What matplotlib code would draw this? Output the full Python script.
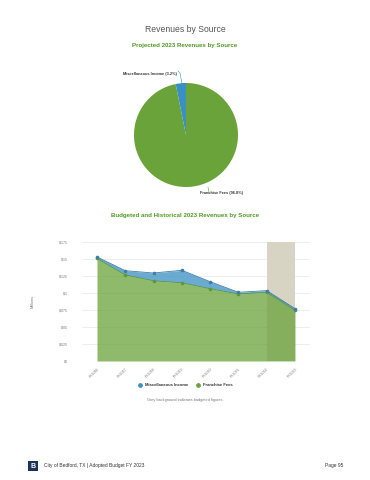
import matplotlib
matplotlib.use("Agg")
import matplotlib.pyplot as plt
from matplotlib.patches import Rectangle
import numpy as np

plt.rcParams['font.family'] = ['Liberation Sans', 'DejaVu Sans']

# ---- data ----
pie_labels = ["Miscellaneous Income", "Franchise Fees"]
pie_values = [3.2, 96.8]

years = ["FY2016", "FY2017", "FY2018", "FY2019", "FY2020", "FY2021", "FY2022", "FY2023"]
misc_income = [0.0020, 0.0063, 0.0114, 0.0184, 0.0103, 0.0025, 0.0025, 0.0025]
franchise_fees = [0.1510, 0.1265, 0.1180, 0.1150, 0.1063, 0.0985, 0.1010, 0.0745]
y_ticks = [0, 0.025, 0.05, 0.075, 0.1, 0.125, 0.15, 0.175]
y_tick_labels = ["$0", "$.025", "$.05", "$.075", "$.1", "$.125", "$.15", "$.175"]

W, H = 370, 480
fig = plt.figure(figsize=(W / 100, H / 100), dpi=100)
fig.patch.set_facecolor("white")

def px(x, y):
    return x / W, 1 - y / H

def box(x0, y0, x1, y1):
    return [x0 / W, 1 - y1 / H, (x1 - x0) / W, (y1 - y0) / H]

GREEN = "#6aa339"
BLUE = "#3a8fc4"
TITLE_GREEN = "#4e9a25"

# titles
fig.text(*px(185, 30), "Revenues by Source", ha="center", va="center", fontsize=6.2, color="#555555")
fig.text(*px(185, 45), "Projected 2023 Revenues by Source", ha="center", va="center",
         fontsize=4.4, color=TITLE_GREEN, fontweight="bold")

# ---- pie ----
axp = fig.add_axes(box(134, 83, 238, 187))
axp.pie(pie_values, colors=[BLUE, GREEN], startangle=90, counterclock=True,
        wedgeprops=dict(linewidth=0), radius=1)
axp.set_xlim(-1, 1)
axp.set_ylim(-1, 1)
axp.set_aspect("equal")
axp.axis("off")

fig.text(*px(150, 74), f"{pie_labels[0]} ({pie_values[0]}%)", ha="center", va="center",
         fontsize=2.8, color="#333333", fontweight="bold")
fig.text(*px(222, 193), f"{pie_labels[1]} ({pie_values[1]}%)", ha="center", va="center",
         fontsize=2.8, color="#333333", fontweight="bold")
# connector lines
fig.add_artist(plt.Line2D([178 / W, 180 / W, 182 / W], [1 - 71 / H, 1 - 73 / H, 1 - 84 / H],
                          color=BLUE, linewidth=0.4))
fig.add_artist(plt.Line2D([209 / W, 208 / W], [1 - 193 / H, 1 - 187 / H],
                          color=GREEN, linewidth=0.4))

fig.text(*px(185, 216), "Budgeted and Historical 2023 Revenues by Source", ha="center", va="center",
         fontsize=4.4, color=TITLE_GREEN, fontweight="bold")

# ---- area chart ----
ax = fig.add_axes(box(82, 242, 310, 361))
x = np.arange(len(years))
ax.set_xlim(-0.53, 7.53)
ax.set_ylim(0, 0.175)
for t in y_ticks:
    ax.axhline(t, color="#e6e6e6", linewidth=0.5, zorder=0)
ax.axvspan(6, 7, color="#d8d4c4", zorder=0.5, linewidth=0)

ff = np.array(franchise_fees)
mi = np.array(misc_income)
total = ff + mi
ax.fill_between(x, 0, ff, color=GREEN, alpha=0.75, linewidth=0, zorder=1)
ax.fill_between(x, ff, total, color=BLUE, alpha=0.75, linewidth=0, zorder=1)
ax.plot(x, ff, color="#5d9a36", linewidth=0.6, marker="o", markersize=1.6, zorder=3)
ax.plot(x, total, color="#3f7fa6", linewidth=0.6, marker="o", markersize=1.6, zorder=3)

ax.set_yticks(y_ticks)
ax.set_yticklabels(y_tick_labels, fontsize=2.6, color="#777777")
ax.set_xticks(x)
ax.set_xticklabels(years, fontsize=2.6, color="#777777", rotation=45, ha="right", rotation_mode="anchor")
ax.tick_params(axis="y", length=0, pad=10)
ax.tick_params(axis="x", length=0, pad=4)
for s in ax.spines.values():
    s.set_visible(False)
ax.set_facecolor("none")

fig.text(*px(33, 301), "Millions", rotation=90, ha="center", va="center", fontsize=2.8, color="#777777")

# legend
fig.add_artist(plt.Line2D([140 / W], [1 - 385 / H], marker="o", markersize=2.4, color=BLUE, linestyle=""))
fig.text(*px(145, 385), pie_labels[0], ha="left", va="center", fontsize=3.0, color="#333333", fontweight="bold")
fig.add_artist(plt.Line2D([198 / W], [1 - 385 / H], marker="o", markersize=2.4, color=GREEN, linestyle=""))
fig.text(*px(203, 385), pie_labels[1], ha="left", va="center", fontsize=3.0, color="#333333", fontweight="bold")

fig.text(*px(185, 400), "Grey background indicates budgeted figures.", ha="center", va="center",
         fontsize=2.8, color="#777777")

# footer
fig.add_artist(Rectangle((28 / W, 1 - 471 / H), 10 / W, 10 / H, transform=fig.transFigure,
                         facecolor="#1c3557", edgecolor="none"))
fig.text(*px(33, 466), "B", ha="center", va="center", fontsize=5, color="white", fontweight="bold")
fig.text(*px(44, 466), "City of Bedford, TX | Adopted Budget FY 2023", ha="left", va="center",
         fontsize=3.5, color="#333333")
fig.text(*px(343, 466), "Page 95", ha="right", va="center", fontsize=3.5, color="#333333")

fig.savefig("out.png", dpi=100, facecolor="white")
